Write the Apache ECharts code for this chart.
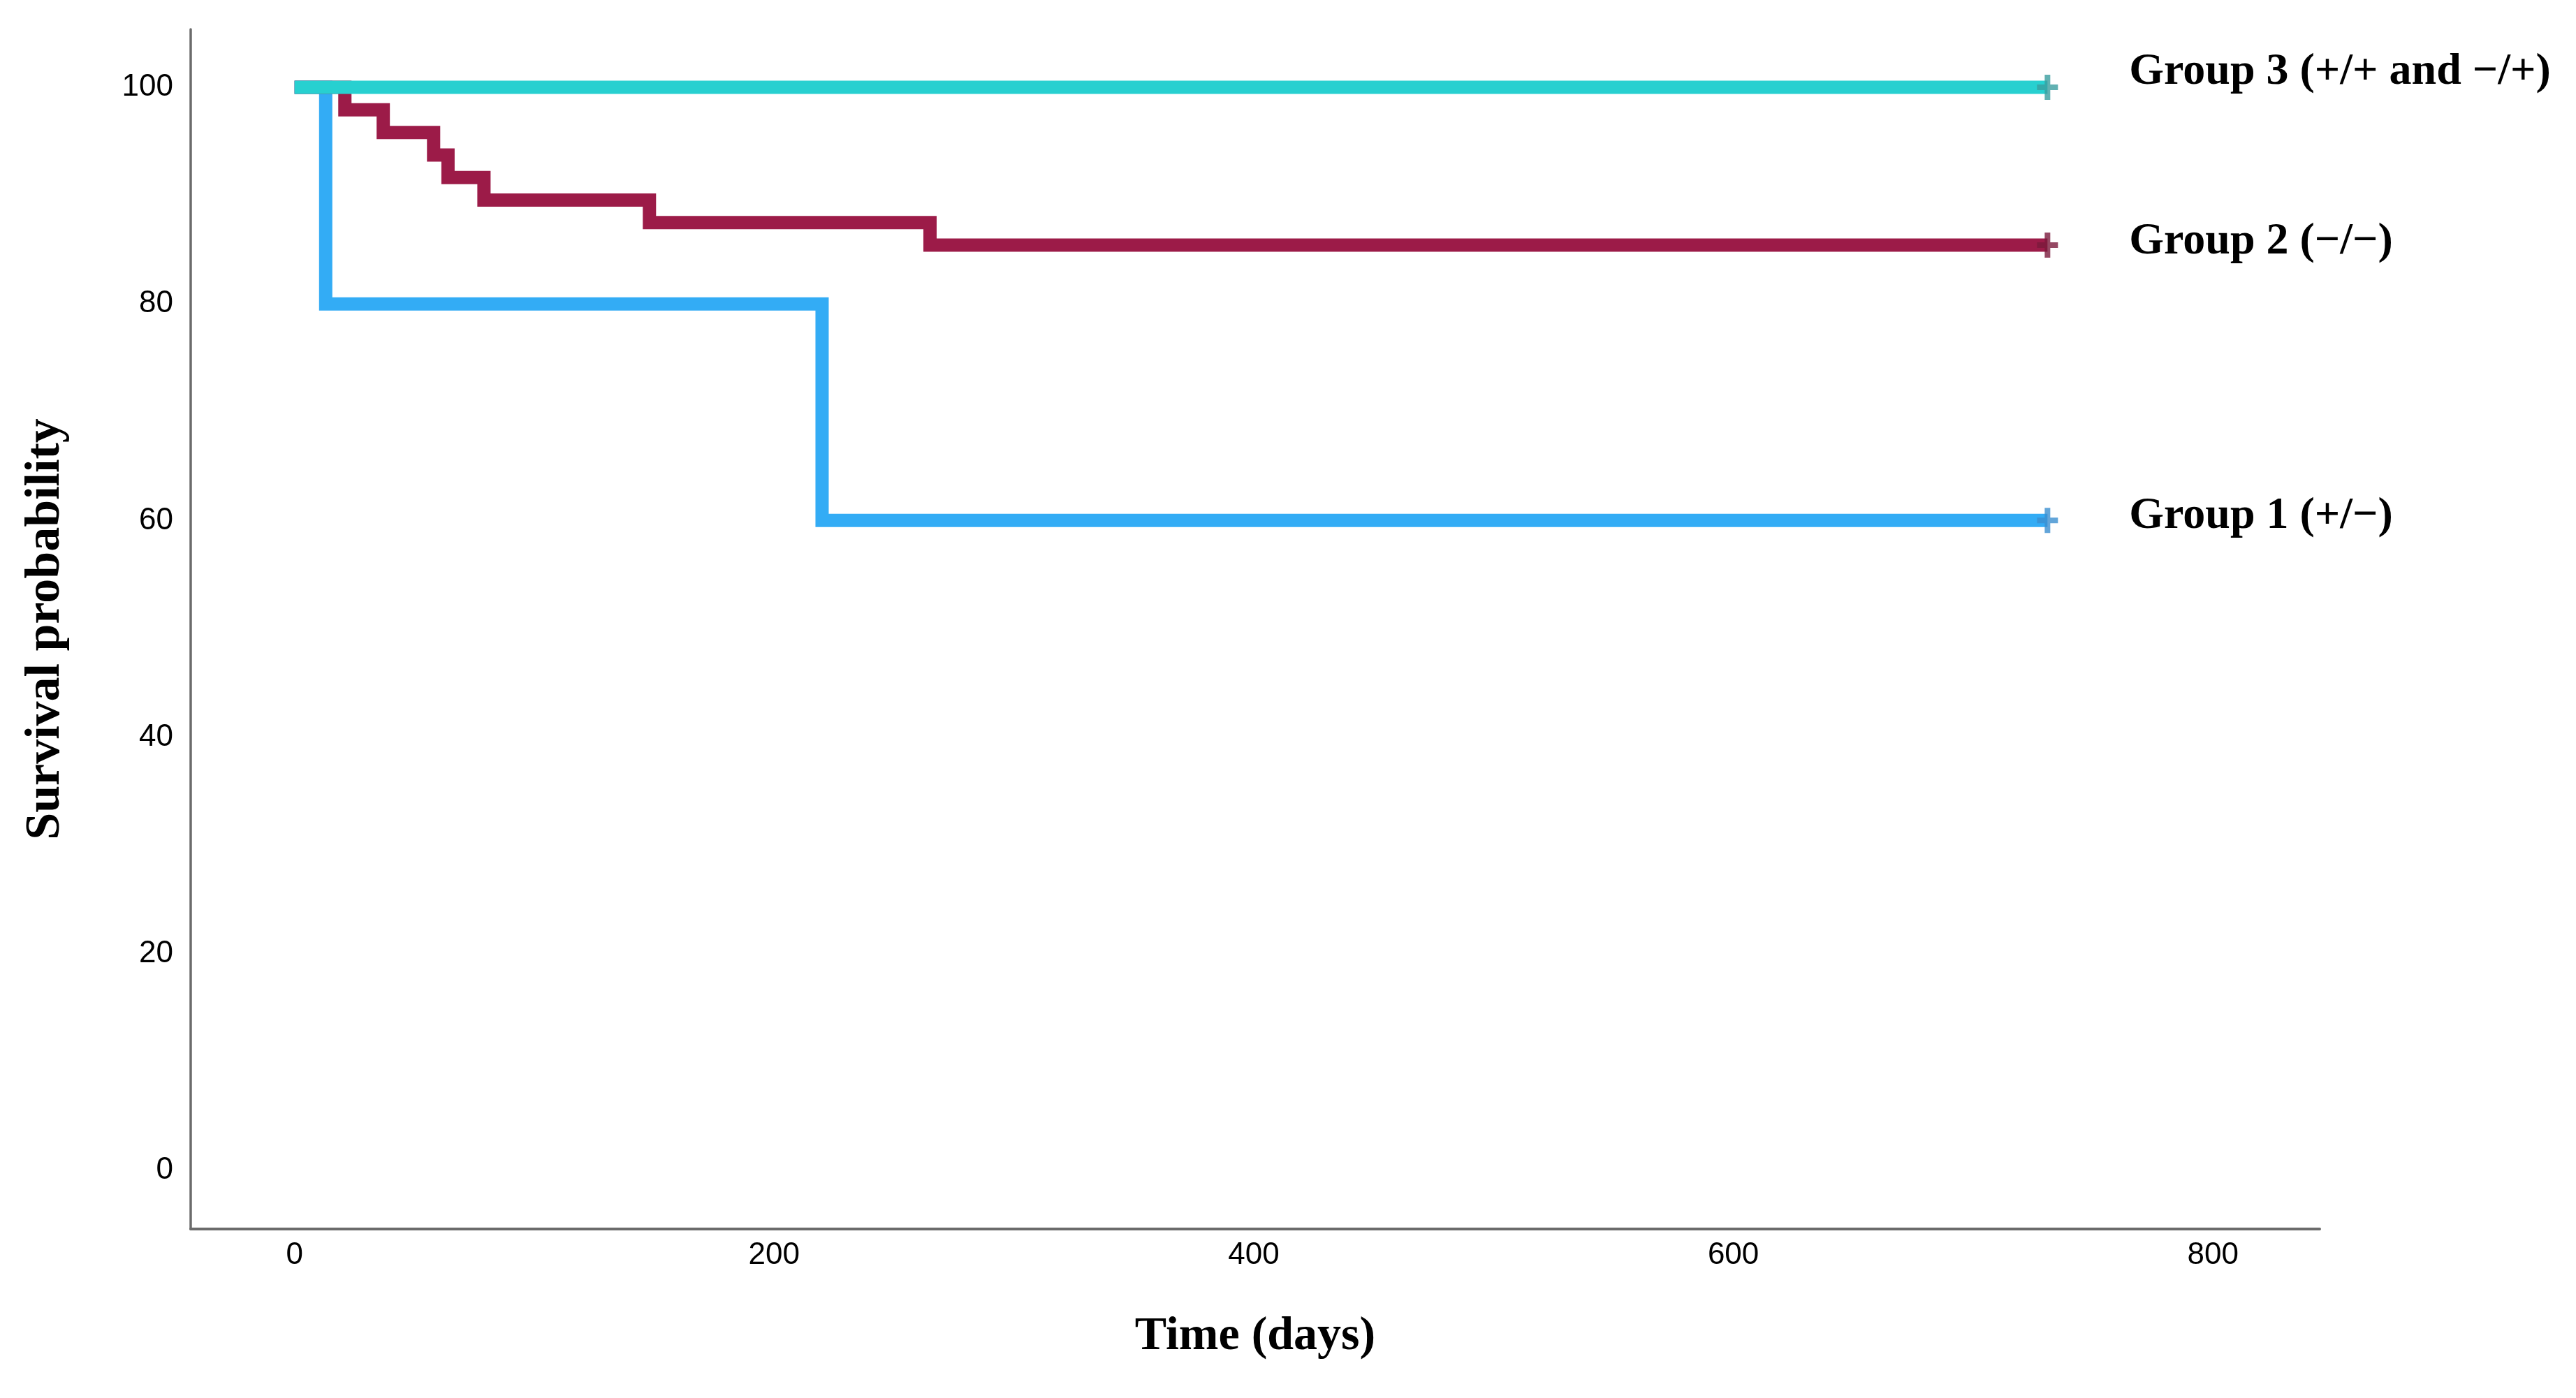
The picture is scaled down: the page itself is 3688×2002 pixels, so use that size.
<!DOCTYPE html>
<html>
<head>
<meta charset="utf-8">
<script src="https://cdn.jsdelivr.net/npm/echarts@6/dist/echarts.min.js"></script>
<style>
html,body{margin:0;padding:0;background:#fff;}
#chart{width:3688px;height:2002px;}
</style>
</head>
<body>
<div id="chart"></div>
<script>
// ---- data ----
const groupNames = ['Group 1 (+/\u2212)', 'Group 2 (\u2212/\u2212)', 'Group 3 (+/+ and \u2212/+)'];
const group1Times = [0, 13, 220, 731];
const group1Surv  = [100, 80, 60, 60];
const group2Times = [0, 21, 37, 58, 64, 79, 148, 265, 731];
const group2Surv  = [100, 97.92, 95.83, 93.75, 91.67, 89.58, 87.5, 85.42, 85.42];
const group3Times = [0, 731];
const group3Surv  = [100, 100];
const censorTime = [731, 731, 731];
const xTicks = [0, 200, 400, 600, 800];
const yTicks = [0, 20, 40, 60, 80, 100];

const lineColors   = ['#33acf5', '#9c1b48', '#27d0d0'];
const censorColors = ['#3b8fcf', '#7a1a3c', '#3a9e9f'];
const labelOffsets = [[0, -6], [0, -5], [0, -22]];

const zip = (t, s) => t.map((v, i) => [v, s[i]]);
const curves = [zip(group1Times, group1Surv), zip(group2Times, group2Surv), zip(group3Times, group3Surv)];

const serif = '"Liberation Serif", "Times New Roman", serif';
const plusPath = 'path://M11,0h8v36h-8zM0,14h30v8h-30z';

const series = [];
curves.forEach((d, i) => {
  series.push({
    type: 'line',
    name: groupNames[i],
    data: d,
    step: 'end',
    showSymbol: false,
    symbol: 'none',
    z: 2 + i,
    lineStyle: { color: lineColors[i], width: 19, cap: 'butt', join: 'miter' },
    endLabel: {
      show: true,
      formatter: groupNames[i],
      distance: 117,
      offset: labelOffsets[i],
      color: '#000',
      fontFamily: serif,
      fontWeight: 'bold',
      fontSize: 64
    },
    animation: false
  });
});
curves.forEach((d, i) => {
  const last = d[d.length - 1];
  series.push({
    type: 'scatter',
    data: [[censorTime[i], last[1]]],
    symbol: plusPath,
    symbolSize: [30, 36],
    z: 10,
    itemStyle: { color: censorColors[i] },
    silent: true,
    animation: false
  });
});

const chart = echarts.init(document.getElementById('chart'), null, { renderer: 'canvas' });
chart.setOption({
  backgroundColor: '#ffffff',
  animation: false,
  grid: { left: 273, right: 367, top: 42, bottom: 242 },
  xAxis: {
    type: 'value',
    min: -43.3,
    max: 844.5,
    name: 'Time (days)',
    nameLocation: 'middle',
    nameGap: 120,
    nameTextStyle: { fontFamily: serif, fontWeight: 'bold', fontSize: 68, color: '#000' },
    axisLine: { show: true, onZero: false, lineStyle: { color: '#6b6b6b', width: 4 } },
    axisTick: { show: false },
    splitLine: { show: false },
    axisLabel: {
      customValues: xTicks,
      margin: 16,
      color: '#000',
      fontFamily: '"Liberation Sans", Arial, sans-serif',
      fontSize: 44
    }
  },
  yAxis: {
    type: 'value',
    min: -5.42,
    max: 105.35,
    name: 'Survival probability',
    nameLocation: 'middle',
    nameGap: 172,
    nameTextStyle: { fontFamily: serif, fontWeight: 'bold', fontSize: 70, color: '#000' },
    axisLine: { show: true, onZero: false, lineStyle: { color: '#6b6b6b', width: 3.5 } },
    axisTick: { show: false },
    splitLine: { show: false },
    axisLabel: {
      customValues: yTicks,
      margin: 25,
      padding: [0, 0, 19, 0],
      color: '#000',
      fontFamily: '"Liberation Sans", Arial, sans-serif',
      fontSize: 44
    }
  },
  series: series
});
</script>
</body>
</html>
